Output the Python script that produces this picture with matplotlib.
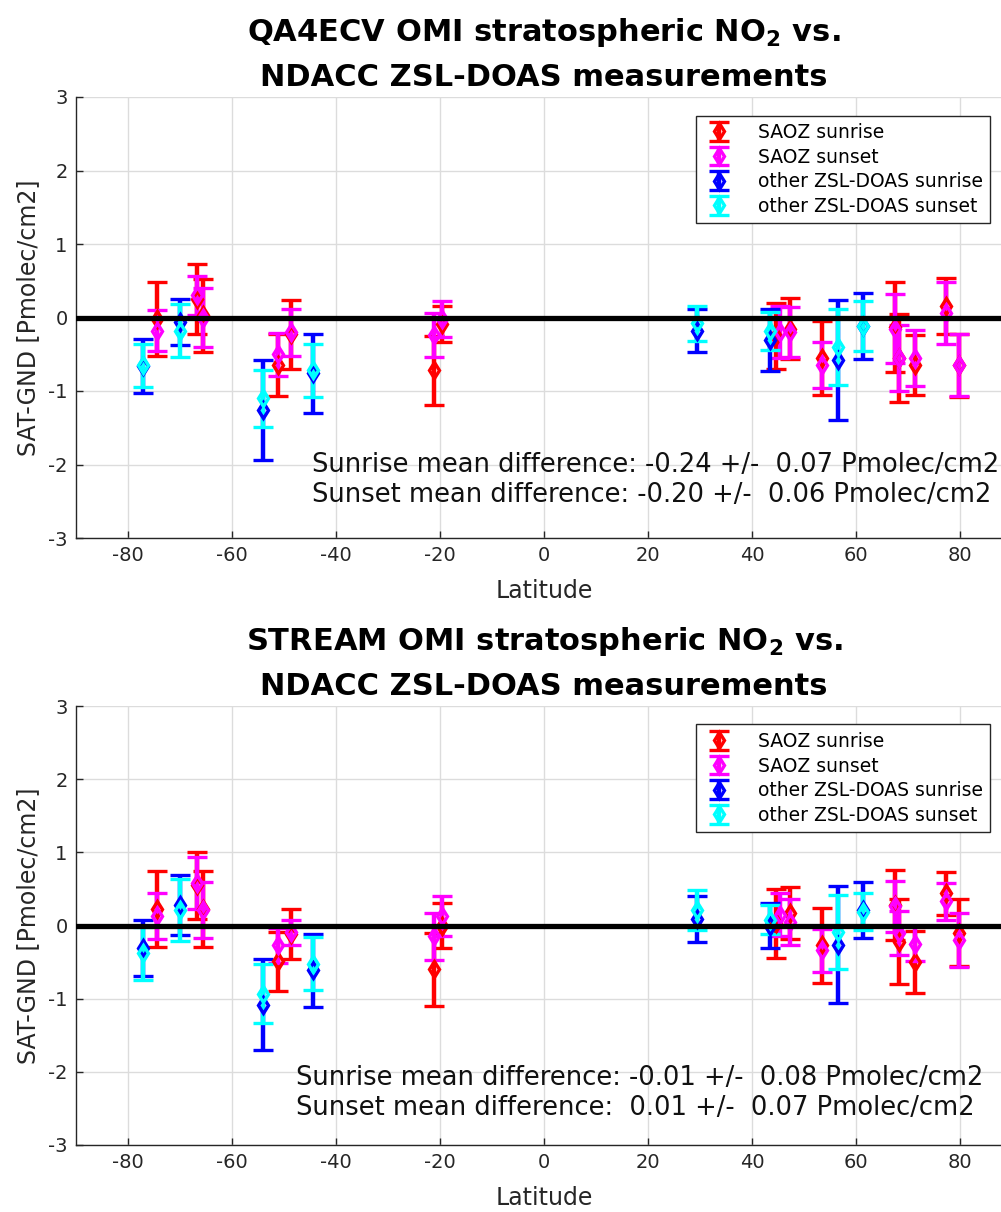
#!/usr/bin/env python3
"""
OMI stratospheric NO2 vs NDACC ZSL-DOAS: SAT-GND differences per station latitude.
Two panels (QA4ECV and STREAM), MATLAB-like look.
"""

import matplotlib
matplotlib.use("Agg")
import matplotlib.pyplot as plt

plt.rcParams['font.family'] = 'DejaVu Sans'
plt.rcParams['mathtext.fontset'] = 'dejavusans'
plt.rcParams['axes.unicode_minus'] = False
plt.rcParams['xtick.direction'] = 'in'
plt.rcParams['ytick.direction'] = 'in'

# station latitudes
saoz_sr_lat = [-74.4, -66.8, -65.5, -51.1, -48.7, -21.2, -19.6, 44.7, 47.3, 53.4, 67.5, 68.3, 71.3, 77.4, 79.9]
saoz_ss_lat = [-74.4, -66.8, -65.5, -51.1, -48.7, -21.2, -19.6, 45.3, 47.3, 53.4, 67.5, 68.3, 71.3, 77.4, 79.9]
other_lat = [-77.2, -70.0, -54.0, -44.4, 29.4, 43.5, 56.6, 61.3]

# QA4ECV panel (Pmolec/cm2)
qa_saoz_sr = [-0.02, 0.25, 0.03, -0.65, -0.23, -0.72, -0.09, -0.25, -0.15, -0.55, -0.13, -0.55, -0.65, 0.16, -0.65]
qa_saoz_sr_err = [0.50, 0.48, 0.50, 0.42, 0.47, 0.47, 0.25, 0.45, 0.42, 0.50, 0.61, 0.60, 0.41, 0.38, 0.43]
qa_saoz_ss = [-0.18, 0.30, 0.00, -0.50, -0.20, -0.24, -0.02, -0.20, -0.20, -0.65, -0.15, -0.55, -0.55, 0.06, -0.65]
qa_saoz_ss_err = [0.28, 0.27, 0.40, 0.29, 0.32, 0.30, 0.25, 0.35, 0.34, 0.31, 0.47, 0.45, 0.38, 0.42, 0.42]
qa_other_sr = [-0.66, -0.06, -1.26, -0.76, -0.18, -0.31, -0.58, -0.11]
qa_other_sr_err = [0.37, 0.31, 0.68, 0.54, 0.29, 0.42, 0.82, 0.45]
qa_other_ss = [-0.65, -0.18, -1.10, -0.72, -0.08, -0.18, -0.40, -0.12]
qa_other_ss_err = [0.29, 0.36, 0.39, 0.36, 0.24, 0.26, 0.52, 0.34]
qa_stats = ["Sunrise mean difference: -0.24 +/-  0.07 Pmolec/cm2",
            "Sunset mean difference: -0.20 +/-  0.06 Pmolec/cm2"]

# STREAM panel (Pmolec/cm2)
st_saoz_sr = [0.22, 0.55, 0.23, -0.49, -0.12, -0.60, 0.00, 0.03, 0.17, -0.27, 0.28, -0.22, -0.50, 0.44, -0.10]
st_saoz_sr_err = [0.52, 0.46, 0.52, 0.40, 0.34, 0.50, 0.31, 0.47, 0.36, 0.51, 0.48, 0.58, 0.42, 0.29, 0.46]
st_saoz_ss = [0.13, 0.58, 0.21, -0.27, -0.09, -0.15, 0.13, 0.15, 0.05, -0.34, 0.26, -0.10, -0.25, 0.33, -0.20]
st_saoz_ss_err = [0.32, 0.35, 0.38, 0.24, 0.17, 0.32, 0.27, 0.30, 0.31, 0.29, 0.35, 0.30, 0.24, 0.25, 0.37]
st_other_sr = [-0.31, 0.28, -1.08, -0.61, 0.09, 0.00, -0.26, 0.21]
st_other_sr_err = [0.38, 0.41, 0.62, 0.50, 0.31, 0.31, 0.80, 0.38]
st_other_ss = [-0.38, 0.21, -0.93, -0.52, 0.21, 0.08, -0.09, 0.19]
st_other_ss_err = [0.36, 0.42, 0.40, 0.36, 0.27, 0.20, 0.51, 0.25]
st_stats = ["Sunrise mean difference: -0.01 +/-  0.08 Pmolec/cm2",
            "Sunset mean difference:  0.01 +/-  0.07 Pmolec/cm2"]

labels = ['SAOZ sunrise', 'SAOZ sunset', 'other ZSL-DOAS sunrise', 'other ZSL-DOAS sunset']
colors = ['#ff0000', '#ff00ff', '#0000ff', '#00ffff']


def draw_panel(ax, product, series, stats, text_x, text_y):
    handles = []
    for (lat, val, err), lab, col in zip(series, labels, colors):
        h = ax.errorbar(lat, val, yerr=err, fmt='d', color=col, ecolor=col,
                        mfc='none', mec=col, ms=8.5, mew=2.4,
                        elinewidth=3.2, capsize=7, capthick=3.8, label=lab)
        handles.append(h)

    ax.axhline(0, color='k', lw=3.8, zorder=10)

    ax.set_xlim(-90, 90)
    ax.set_ylim(-3, 3)
    ax.set_xticks(range(-80, 81, 20))
    ax.set_yticks(range(-3, 4))
    ax.grid(True, color='#dcdcdc', lw=1.0)
    ax.set_axisbelow(True)
    for s in ['top', 'right']:
        ax.spines[s].set_visible(False)
    for s in ['left', 'bottom']:
        ax.spines[s].set_color('#262626')
        ax.spines[s].set_linewidth(1.0)
    ax.tick_params(labelsize=14, colors='#262626', length=5, width=1.0, pad=6)

    ax.set_xlabel('Latitude', fontsize=17, color='#262626', labelpad=10)
    ax.set_ylabel('SAT-GND [Pmolec/cm2]', fontsize=17, color='#262626', labelpad=6)
    ax.set_title(product + r' OMI stratospheric NO$_\mathbf{2}$ vs.' + '\nNDACC ZSL-DOAS measurements',
                 fontsize=22, fontweight='bold', linespacing=1.62, pad=8)

    for line, ty in zip(stats, text_y):
        ax.text(text_x, ty, line, fontsize=18.5, color='#111111', va='center', ha='left')

    leg = ax.legend(handles=handles, loc='upper right', bbox_to_anchor=(0.977, 0.958),
                    fontsize=13.5, fancybox=False, framealpha=1, edgecolor='#262626',
                    labelspacing=0.3, handlelength=1.6, handletextpad=1.3,
                    borderpad=0.4, borderaxespad=0)
    leg.get_frame().set_linewidth(1.0)


fig = plt.figure(figsize=(10.01, 12.12), dpi=100)
ax1 = fig.add_axes([76 / 1001, 1 - 538 / 1212, 936 / 1001, 441 / 1212])
ax2 = fig.add_axes([76 / 1001, 1 - 1145 / 1212, 936 / 1001, 439 / 1212])

draw_panel(ax1, 'QA4ECV',
           [(saoz_sr_lat, qa_saoz_sr, qa_saoz_sr_err),
            (saoz_ss_lat, qa_saoz_ss, qa_saoz_ss_err),
            (other_lat, qa_other_sr, qa_other_sr_err),
            (other_lat, qa_other_ss, qa_other_ss_err)],
           qa_stats, -44.6, [-2.01, -2.42])

draw_panel(ax2, 'STREAM',
           [(saoz_sr_lat, st_saoz_sr, st_saoz_sr_err),
            (saoz_ss_lat, st_saoz_ss, st_saoz_ss_err),
            (other_lat, st_other_sr, st_other_sr_err),
            (other_lat, st_other_ss, st_other_ss_err)],
           st_stats, -47.6, [-2.08, -2.49])

plt.savefig('out.png', dpi=100)
